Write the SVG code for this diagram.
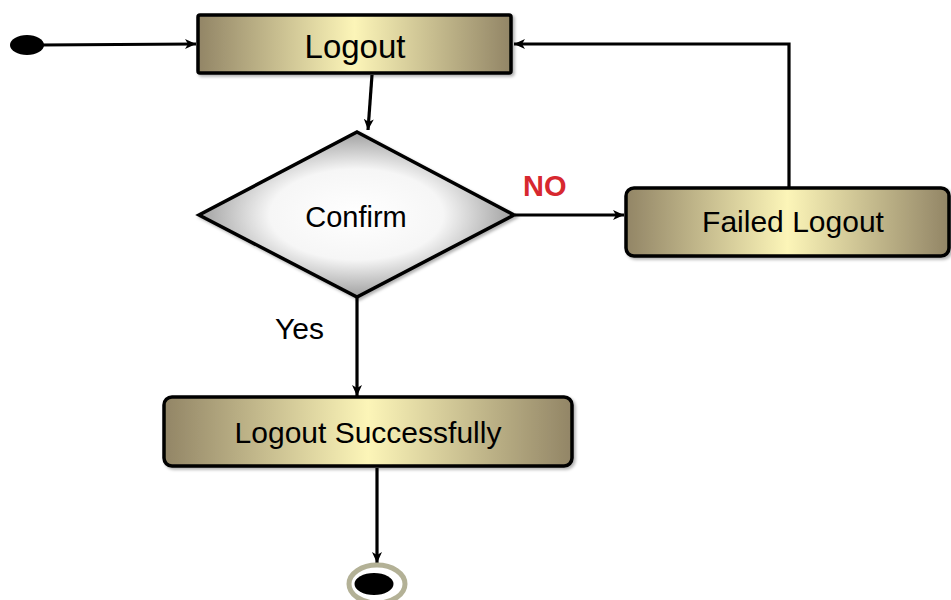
<svg xmlns="http://www.w3.org/2000/svg" width="951" height="600" viewBox="0 0 951 600">
<style>
  .box { stroke: #000; stroke-width: 3.5; fill: url(#boxGrad); filter: url(#shadow); }
  .edge { stroke: #000; stroke-width: 3.2; fill: none; marker-end: url(#arrow); }
  .label { font-family: "Liberation Sans", Arial, sans-serif; fill: #000; }
</style>
<defs>
  <linearGradient id="boxGrad" x1="0" y1="0" x2="1" y2="0">
    <stop offset="0" stop-color="#928566"/>
    <stop offset="0.5" stop-color="#fcf5b8"/>
    <stop offset="1" stop-color="#928566"/>
  </linearGradient>
  <radialGradient id="diaGrad" cx="0.5" cy="0.5" r="0.5">
    <stop offset="0" stop-color="#ffffff"/>
    <stop offset="0.55" stop-color="#f6f6f6"/>
    <stop offset="1" stop-color="#a0a0a0"/>
  </radialGradient>
  <filter id="shadow" x="-5%" y="-10%" width="115%" height="130%">
    <feDropShadow dx="2" dy="2" stdDeviation="1.5" flood-color="#000" flood-opacity="0.3"/>
  </filter>
  <marker id="arrow" markerUnits="userSpaceOnUse" markerWidth="12" markerHeight="12" viewBox="0 0 12 12" refX="11" refY="6" orient="auto">
    <path d="M0,1 L11,6 L0,11 L3,6 Z" fill="#000"/>
  </marker>
</defs>

<g id="connectors">
  <path class="edge" d="M40,45 L196,44"/>
  <path class="edge" d="M372,75 L368,130"/>
  <path class="edge" d="M515,215 L624,215"/>
  <path class="edge" d="M789,187 L789,44 L514,44"/>
  <path class="edge" d="M357,298 L357,396"/>
  <path class="edge" d="M377,468 L377,563"/>
  <text class="label" x="523" y="196" font-size="29" font-weight="bold" style="fill:#d7282f">NO</text>
  <text class="label" x="275" y="339" font-size="30">Yes</text>
</g>

<g id="start">
  <ellipse cx="27" cy="45" rx="17" ry="10" fill="#000"/>
</g>

<g id="logout">
  <rect class="box" x="198" y="15" width="313" height="58" rx="2"/>
  <text class="label" x="355" y="58" font-size="33" text-anchor="middle">Logout</text>
</g>

<g id="confirm">
  <polygon points="357,132 514,215 357,297 199,215" fill="url(#diaGrad)" stroke="#000" stroke-width="3.5" stroke-linejoin="miter" filter="url(#shadow)"/>
  <text class="label" x="356" y="227" font-size="29" text-anchor="middle">Confirm</text>
</g>

<g id="failed">
  <rect class="box" x="626" y="188" width="323" height="68" rx="8"/>
  <text class="label" x="793" y="232" font-size="30" text-anchor="middle">Failed Logout</text>
</g>

<g id="success">
  <rect class="box" x="164" y="397" width="408" height="69" rx="8"/>
  <text class="label" x="368" y="443" font-size="30" text-anchor="middle">Logout Successfully</text>
</g>

<g id="end">
  <ellipse cx="377" cy="584" rx="28" ry="19" fill="#fff" stroke="#b3b196" stroke-width="5"/>
  <ellipse cx="374" cy="584" rx="19.5" ry="11" fill="#000"/>
</g>
</svg>
